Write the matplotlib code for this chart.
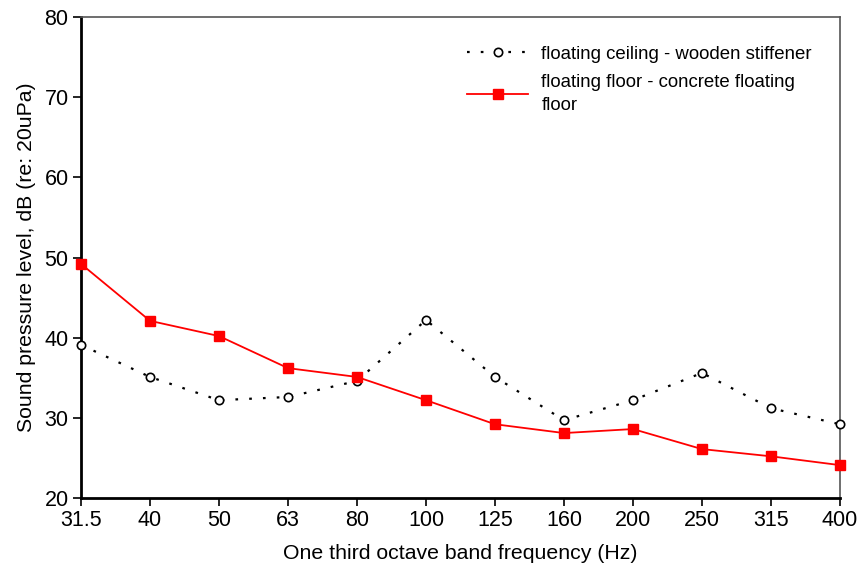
import matplotlib

matplotlib.use("Agg")
import matplotlib.pyplot as plt
import numpy as np

plt.rcParams["font.family"] = ["Liberation Sans", "DejaVu Sans"]

# one-third octave band centres (Hz) and measured levels (dB re 20 uPa)
bands = ["31.5", "40", "50", "63", "80", "100", "125", "160", "200", "250", "315", "400"]
ceiling_wooden = [39.1, 35.1, 32.2, 32.6, 34.6, 42.2, 35.1, 29.7, 32.2, 35.6, 31.2, 29.2]
floor_concrete = [49.2, 42.1, 40.2, 36.2, 35.1, 32.2, 29.2, 28.1, 28.6, 26.1, 25.2, 24.1]

yticks = [20, 30, 40, 50, 60, 70, 80]

fig = plt.figure(figsize=(8.6, 5.67), dpi=100)
ax = fig.add_axes([0.0942, 0.1217, 0.8825, 0.8483])

x = np.arange(len(bands))
ax.plot(x, ceiling_wooden, linestyle=(0, (1.2, 5)), color="black", lw=1.6,
        marker="o", ms=6, mfc="white", mec="black", mew=1.2,
        label="floating ceiling - wooden stiffener", clip_on=False, zorder=3)
ax.plot(x, floor_concrete, "-", color="#ff0000", lw=1.3,
        marker="s", ms=7, mfc="#ff0000", mec="#ff0000",
        label="floating floor - concrete floating\nfloor", clip_on=False, zorder=4)

ax.set_xlim(0, len(bands) - 1)
ax.set_ylim(20, 80)
ax.set_xticks(x)
ax.set_xticklabels(bands)
ax.set_yticks(yticks)
ax.tick_params(axis="both", labelsize=15.5, direction="out", length=6, width=1.2,
               pad=3)

for side in ("left", "bottom"):
    ax.spines[side].set_linewidth(2)
    ax.spines[side].set_color("black")
for side in ("top", "right"):
    ax.spines[side].set_linewidth(1.2)
    ax.spines[side].set_color("#555555")

ax.set_xlabel("One third octave band frequency (Hz)", fontsize=15.3, labelpad=9)
ax.set_ylabel("Sound pressure level, dB (re: 20uPa)", fontsize=15.3, labelpad=6)

leg = ax.legend(loc="upper right", bbox_to_anchor=(0.985, 0.975), frameon=False,
                fontsize=13.4, handlelength=3.3, handletextpad=0.7,
                labelspacing=0.6)
for t in leg.get_texts():
    t.set_linespacing(1.45)

fig.savefig("out.png", dpi=100)
